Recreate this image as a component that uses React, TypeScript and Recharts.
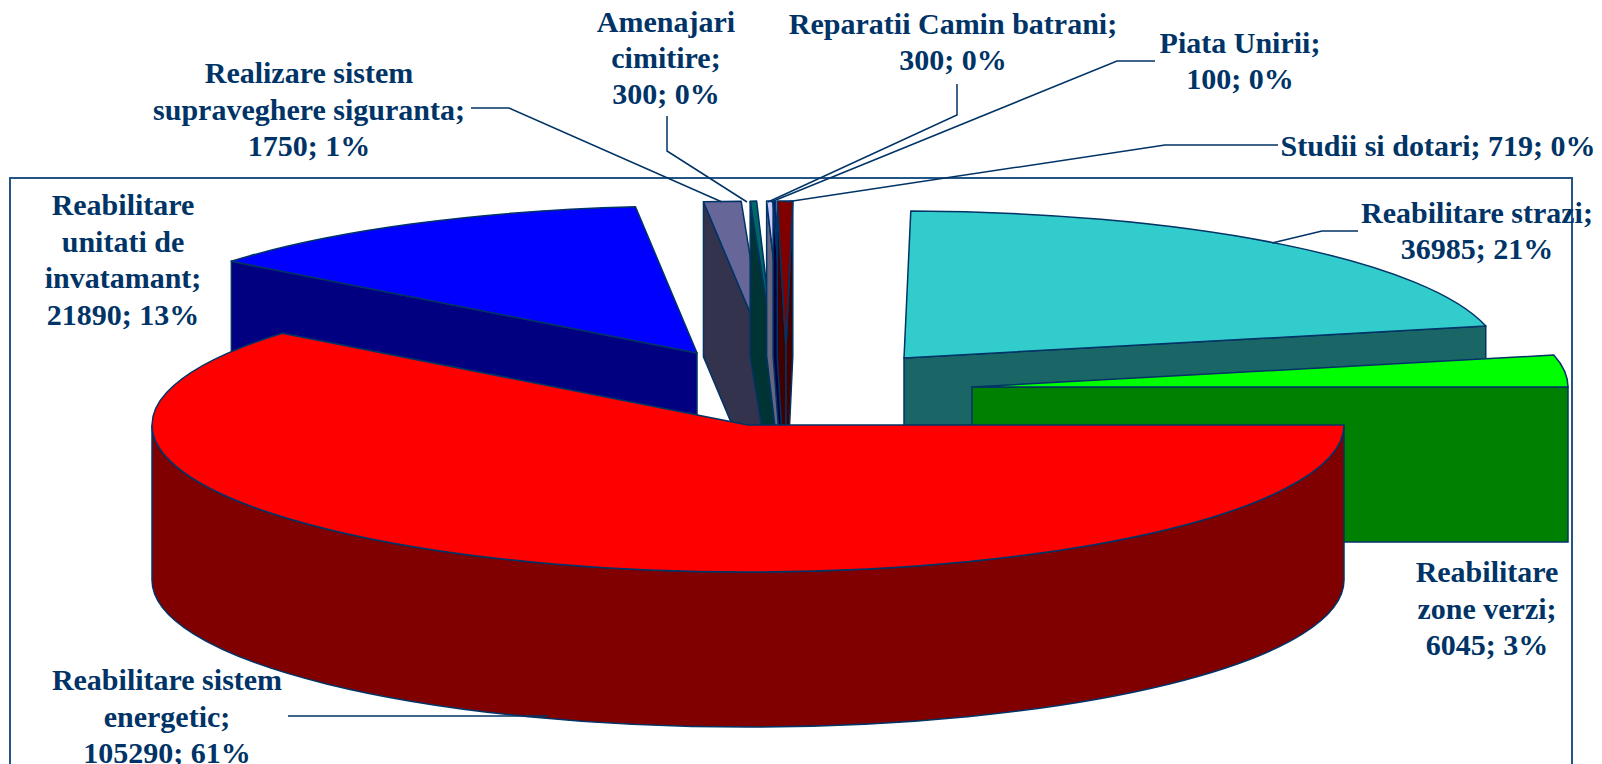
import { PieChart, Pie, Cell } from "recharts";

// slices run clockwise, starting at the back so that later ones paint over earlier ones
const NAMES = [
  "Reabilitare unitati de invatamant",
  "Realizare sistem supraveghere siguranta",
  "Amenajari cimitire",
  "Reparatii Camin batrani",
  "Piata Unirii",
  "Studii si dotari",
  "Reabilitare strazi",
  "Reabilitare zone verzi",
  "Reabilitare sistem energetic",
];
const VALUES = [21890, 1750, 300, 300, 100, 719, 36985, 6045, 105290];
const COLORS = ["#0000ff", "#666699", "#006666", "#ccccff", "#000080", "#800000", "#33cccc", "#00ff00", "#ff0000"];
// how many words go on each line of a label
const LABEL_WORDS = [[1, 2, 1, 2], [2, 2, 2], [1, 1, 2], [3, 2], [2, 2], [5], [2, 2], [1, 2, 2], [2, 1, 2]];

const chartData = NAMES.map((name, i) => ({ name, value: VALUES[i] }));
const TOTAL = VALUES.reduce((a, b) => a + b, 0);
const RED = VALUES[VALUES.length - 1];
const START_ANGLE = (360 * (TOTAL - RED)) / TOTAL;

// 3d look of the pie
const TILT = 0.2466;
const DEPTH = 155;
const NAVY = "#003366";
const EXPLODE = [
  [-51, -72], [17, -77], [26, -77], [36, -77], [36, -77], [38, -77], [156, -67], [224, -38], [0, 0],
];

// label placement: centre x, first baseline, line gap, leader line
const LABEL_POS = [
  { x: 123, y: 215, gap: 36.5, leader: "" },
  { x: 309, y: 83, gap: 36.5, leader: "471,108 509,108 722,202" },
  { x: 666, y: 32, gap: 36, leader: "667,116 667,151 747,202" },
  { x: 953, y: 34, gap: 36, leader: "957,84 957,115 768,202" },
  { x: 1240, y: 53, gap: 36, leader: "1155,61 1117,61 771,202" },
  { x: 1438, y: 156, gap: 36, leader: "1278,145 1165,145 786,202" },
  { x: 1477, y: 223, gap: 36, leader: "1358,231 1322,231 1272,243" },
  { x: 1487, y: 582, gap: 36.5, leader: "" },
  { x: 167, y: 690, gap: 36.5, leader: "288,716 548,716" },
];

const shade = (hex: string) => {
  const n = parseInt(hex.slice(1), 16);
  const part = (v: number) => Math.round(v / 2).toString(16).padStart(2, "0");
  return `#${part((n >> 16) & 255)}${part((n >> 8) & 255)}${part(n & 255)}`;
};

const Slice3D = (props: any) => {
  const { cx, cy, outerRadius, startAngle, endAngle, index, fill } = props;
  const idx = index ?? chartData.findIndex((d) => d.name === props.name);
  const color = fill ?? COLORS[idx];
  const [dx, dy] = EXPLODE[idx];
  const x0 = cx + dx;
  const y0 = cy + dy;
  const rx = outerRadius;
  const ry = outerRadius * TILT;
  const pt = (deg: number, drop = 0) => {
    const r = (deg * Math.PI) / 180;
    return `${x0 + rx * Math.cos(r)},${y0 - ry * Math.sin(r) + drop}`;
  };
  const cos = (deg: number) => Math.cos((deg * Math.PI) / 180);
  const wall = shade(color);
  const span = startAngle - endAngle;
  const large = span > 180 ? 1 : 0;

  const radial = (deg: number) => (
    <path
      d={`M${x0},${y0} L${pt(deg)} L${pt(deg, DEPTH)} L${x0},${y0 + DEPTH} Z`}
      fill={wall}
      stroke={NAVY}
      strokeWidth={1.5}
    />
  );

  // only the part of the rim facing the viewer gets a wall
  let a = startAngle;
  while (a < 0.001) a += 360;
  while (a > 360.001) a -= 360;
  const from = Math.min(a, 360);
  const to = Math.max(a - span, 180);
  const hasRim = from > 180 && to < from;
  const rimLarge = from - to > 180 ? 1 : 0;

  return (
    <g>
      {cos(startAngle) < 0 && radial(startAngle)}
      {cos(endAngle) > 0 && radial(endAngle)}
      {hasRim && (
        <path
          d={`M${pt(from)} A${rx},${ry} 0 ${rimLarge} 1 ${pt(to)} L${pt(to, DEPTH)} A${rx},${ry} 0 ${rimLarge} 0 ${pt(from, DEPTH)} Z`}
          fill={wall}
          stroke={NAVY}
          strokeWidth={1.5}
        />
      )}
      <path
        d={`M${x0},${y0} L${pt(startAngle)} A${rx},${ry} 0 ${large} 1 ${pt(endAngle)} Z`}
        fill={color}
        stroke={NAVY}
        strokeWidth={1.5}
        strokeLinejoin="round"
      />
    </g>
  );
};

const renderLabel = (props: any) => {
  const i = props.index;
  const pos = LABEL_POS[i];
  const words = `${NAMES[i]}; ${VALUES[i]}; ${Math.round((VALUES[i] / TOTAL) * 100)}%`.split(" ");
  let at = 0;
  const lines = LABEL_WORDS[i].map((n) => {
    const line = words.slice(at, at + n).join(" ");
    at += n;
    return line;
  });
  return (
    <g key={`label-${i}`}>
      {pos.leader && <polyline points={pos.leader} fill="none" stroke={NAVY} strokeWidth={1.5} />}
      <text
        textAnchor="middle"
        fontFamily="'Liberation Serif', serif"
        fontWeight={700}
        fontSize={30}
        fill={NAVY}
      >
        {lines.map((line, k) => (
          <tspan key={k} x={pos.x} y={pos.y + k * pos.gap}>
            {line}
          </tspan>
        ))}
      </text>
    </g>
  );
};

export default function App() {
  return (
    <div style={{ position: "absolute", left: 0, top: 0, width: 1602, height: 764, overflow: "hidden", background: "#fff" }}>
      <div
        style={{
          position: "absolute",
          left: 9,
          top: 177,
          width: 1560,
          height: 585,
          border: "2px solid #235586",
          borderBottomColor: "#c0c8d8",
        }}
      />
      <div style={{ position: "absolute", left: 0, top: 0 }}>
        <PieChart width={1602} height={764}>
          <Pie
            data={chartData}
            dataKey="value"
            nameKey="name"
            cx={743}
            cy={420}
            innerRadius={0}
            outerRadius={596}
            startAngle={START_ANGLE}
            endAngle={START_ANGLE - 360}
            paddingAngle={0}
            stroke="none"
            shape={Slice3D}
            label={renderLabel}
            labelLine={false}
            isAnimationActive={false}
          >
            {chartData.map((entry, index) => (
              <Cell key={`cell-${index}`} fill={COLORS[index]} />
            ))}
          </Pie>
        </PieChart>
      </div>
    </div>
  );
}
